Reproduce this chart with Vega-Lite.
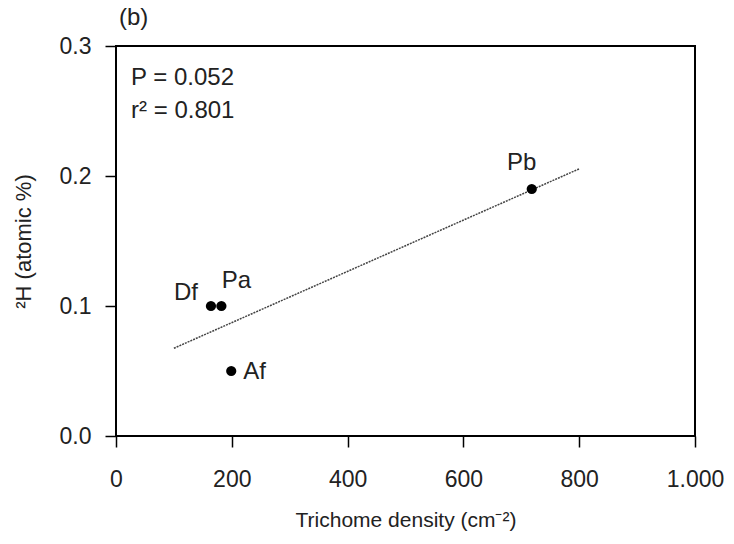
{
  "$schema": "https://vega.github.io/schema/vega-lite/v6.json",
  "width": 579,
  "height": 390,
  "autosize": "none",
  "padding": {"left": 116, "top": 46, "right": 39, "bottom": 108},
  "background": "white",
  "config": {
    "font": "Liberation Sans",
    "view": {"stroke": "black", "strokeWidth": 2},
    "axis": {"domain": false, "grid": false, "tickColor": "black", "tickWidth": 1.5, "tickSize": 11,
      "labelFont": "Liberation Sans", "labelFontSize": 23, "labelColor": "#222", "titleFont": "Liberation Sans",
      "titleFontSize": 21, "titleFontWeight": "normal", "titleColor": "#222"}
  },
  "title": {"text": "(b)", "anchor": "start", "frame": "group", "fontSize": 24, "fontWeight": "normal", "font": "Liberation Sans", "color": "#222", "offset": 5, "dx": 3},
  "datasets": {
    "pts": [
      {"species": "Df", "density": 164, "h2": 0.1},
      {"species": "Pa", "density": 182, "h2": 0.1},
      {"species": "Af", "density": 199, "h2": 0.05},
      {"species": "Pb", "density": 718, "h2": 0.19}
    ],
    "fit": [
      {"density": 100, "h2": 0.0675},
      {"density": 800, "h2": 0.2055}
    ],
    "stats": [
      {"label": "P = 0.052", "density": 26, "h2": 0.2754},
      {"label": "r² = 0.801", "density": 26, "h2": 0.25}
    ]
  },
  "layer": [
    {
      "data": {"name": "fit"},
      "mark": {"type": "line", "stroke": "#444", "strokeWidth": 1.5, "strokeDash": [2, 1]},
      "encoding": {
        "x": {"field": "density", "type": "quantitative", "scale": {"domain": [0, 1000]},
          "axis": {"values": [0, 200, 400, 600, 800, 1000], "title": "Trichome density (cm⁻²)", "labelPadding": 21, "titlePadding": 18,
            "labelExpr": "datum.value == 1000 ? '1.000' : datum.label", "labelFlush": false}},
        "y": {"field": "h2", "type": "quantitative", "scale": {"domain": [0, 0.3]},
          "axis": {"values": [0, 0.1, 0.2, 0.3], "format": ".1f", "title": "²H (atomic %)", "titleFontSize": 22, "labelPadding": 14, "titlePadding": 24, "labelFlush": false}}
      }
    },
    {
      "data": {"name": "pts"},
      "mark": {"type": "point", "filled": true, "color": "black", "opacity": 1, "size": 105},
      "encoding": {
        "x": {"field": "density", "type": "quantitative"},
        "y": {"field": "h2", "type": "quantitative"}
      }
    },
    {
      "data": {"name": "pts"},
      "transform": [{"filter": "datum.species == 'Pb'"}],
      "mark": {"type": "text", "fontSize": 24, "color": "#222", "dx": -10, "dy": -26},
      "encoding": {
        "x": {"field": "density", "type": "quantitative"},
        "y": {"field": "h2", "type": "quantitative"},
        "text": {"field": "species"}
      }
    },
    {
      "data": {"name": "pts"},
      "transform": [{"filter": "datum.species == 'Df'"}],
      "mark": {"type": "text", "fontSize": 24, "color": "#222", "dx": -25, "dy": -13},
      "encoding": {
        "x": {"field": "density", "type": "quantitative"},
        "y": {"field": "h2", "type": "quantitative"},
        "text": {"field": "species"}
      }
    },
    {
      "data": {"name": "pts"},
      "transform": [{"filter": "datum.species == 'Pa'"}],
      "mark": {"type": "text", "fontSize": 24, "color": "#222", "dx": 15, "dy": -25},
      "encoding": {
        "x": {"field": "density", "type": "quantitative"},
        "y": {"field": "h2", "type": "quantitative"},
        "text": {"field": "species"}
      }
    },
    {
      "data": {"name": "pts"},
      "transform": [{"filter": "datum.species == 'Af'"}],
      "mark": {"type": "text", "fontSize": 24, "color": "#222", "align": "left", "dx": 12, "dy": 1},
      "encoding": {
        "x": {"field": "density", "type": "quantitative"},
        "y": {"field": "h2", "type": "quantitative"},
        "text": {"field": "species"}
      }
    },
    {
      "data": {"name": "stats"},
      "mark": {"type": "text", "fontSize": 24, "color": "#222", "align": "left"},
      "encoding": {
        "x": {"field": "density", "type": "quantitative"},
        "y": {"field": "h2", "type": "quantitative"},
        "text": {"field": "label"}
      }
    }
  ]
}
